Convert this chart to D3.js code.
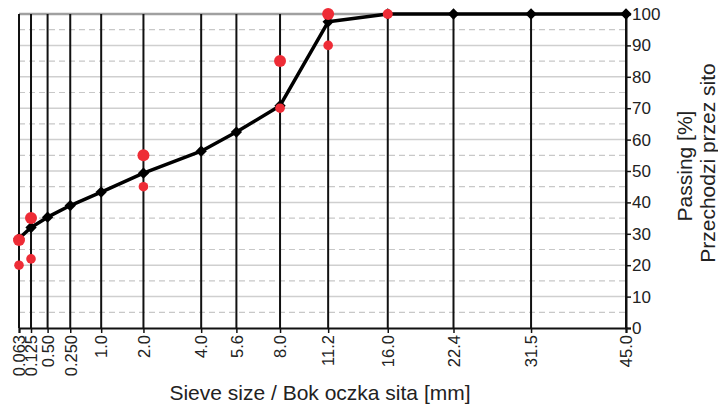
<!DOCTYPE html>
<html>
<head>
<meta charset="utf-8">
<script src="https://cdn.jsdelivr.net/npm/d3@7"></script>
<style>
  html, body { margin: 0; padding: 0; background: #fff; }
  svg { display: block; font-family: "Liberation Sans", Arial, sans-serif; }
</style>
</head>
<body>
<svg id="chart" width="718" height="406"></svg>
<script>
// Sieve sizes (mm) and the labels printed under each sieve line
const sieves = [0.063, 0.125, 0.25, 0.5, 1, 2, 4, 5.6, 8, 11.2, 16, 22.4, 31.5, 45];
const sieveLabels = ["0.063", "0.125", "0.50", "0.250", "1.0", "2.0", "4.0", "5.6", "8.0", "11.2", "16.0", "22.4", "31.5", "45.0"];

// Grading curve of the mix, % passing
const passing = [28.5, 32, 35.3, 39, 43.3, 49.3, 56.3, 62.4, 70.8, 97.5, 100, 100, 100, 100];

// Envelope limits
const upperSieves = [0.063, 0.125, 2, 8, 11.2, 16];
const upperLimit  = [28, 35, 55, 85, 100, 100];
const lowerSieves = [0.063, 0.125, 2, 8, 11.2];
const lowerLimit  = [20, 22, 45, 70, 90];

const yTicks = [0, 10, 20, 30, 40, 50, 60, 70, 80, 90, 100];

const svg = d3.select("#chart");
const L = 19, R = 626, T = 14, B = 328;

const x = d3.scalePow().exponent(0.45).domain([0.063, 45]).range([L, R]);
const y = d3.scaleLinear().domain([0, 100]).range([B, T]);

// Horizontal grid: dashed at the half steps, solid at each ten
const g = svg.append("g");
g.selectAll("line.half").data(yTicks.slice(0, -1).map(v => v + 5)).join("line")
  .attr("x1", L).attr("x2", R).attr("y1", d => y(d)).attr("y2", d => y(d))
  .attr("stroke", "#c8c8c8").attr("stroke-width", 1.2).attr("stroke-dasharray", "6,4");
g.selectAll("line.ten").data(yTicks.slice(1)).join("line")
  .attr("x1", L).attr("x2", R).attr("y1", d => y(d)).attr("y2", d => y(d))
  .attr("stroke", d => d === 100 ? "#a0a0a0" : "#cfcfcf").attr("stroke-width", d => d === 100 ? 2.5 : 1.5);

// Left frame edge
g.append("line").attr("x1", L).attr("x2", L).attr("y1", T).attr("y2", B)
  .attr("stroke", "#909090").attr("stroke-width", 2);

// Vertical sieve lines
g.selectAll("line.sieve").data(sieves).join("line")
  .attr("x1", d => x(d)).attr("x2", d => x(d)).attr("y1", T).attr("y2", B)
  .attr("stroke", "#111").attr("stroke-width", 2);

// Bottom axis
const xAxis = d3.axisBottom(x).tickValues(sieves).tickSize(5)
  .tickFormat((d, i) => sieveLabels[i]);
const xa = svg.append("g").attr("transform", `translate(0,${B})`).call(xAxis);
xa.select(".domain").attr("stroke", "#111").attr("stroke-width", 2);
xa.selectAll(".tick line").attr("stroke", "#111").attr("stroke-width", 1.5);
xa.selectAll(".tick text")
  .attr("font-size", 16.5).attr("fill", "#222")
  .attr("font-family", "Liberation Sans, Arial, sans-serif")
  .attr("text-anchor", "end")
  .attr("transform", "rotate(-90)")
  .attr("x", -7).attr("y", 0).attr("dy", "0.35em");

// Right axis
const yAxis = d3.axisRight(y).tickValues(yTicks).tickSize(5);
const ya = svg.append("g").attr("transform", `translate(${R},0)`).call(yAxis);
ya.select(".domain").attr("stroke", "#111").attr("stroke-width", 2);
ya.selectAll(".tick line").attr("stroke", "#111").attr("stroke-width", 1.5);
ya.selectAll(".tick text")
  .attr("font-size", 17).attr("fill", "#222")
  .attr("font-family", "Liberation Sans, Arial, sans-serif")
  .attr("x", 6);

// Grading curve
const line = d3.line().x((d, i) => x(sieves[i])).y(d => y(d));
svg.append("path").datum(passing).attr("d", line)
  .attr("fill", "none").attr("stroke", "#000").attr("stroke-width", 3.5)
  .attr("stroke-linejoin", "round");

// Diamond markers on the curve
svg.selectAll("rect.pt").data(passing).join("rect")
  .attr("x", -4).attr("y", -4).attr("width", 8).attr("height", 8)
  .attr("fill", "#000")
  .attr("transform", (d, i) => `translate(${x(sieves[i])},${y(d)}) rotate(45)`);

// Envelope points
svg.selectAll("circle.lo").data(lowerLimit).join("circle")
  .attr("cx", (d, i) => x(lowerSieves[i])).attr("cy", d => y(d))
  .attr("r", 4.8).attr("fill", "#ee2c36");
svg.selectAll("circle.up").data(upperLimit).join("circle")
  .attr("cx", (d, i) => x(upperSieves[i])).attr("cy", d => y(d))
  .attr("r", (d, i) => upperSieves[i] === 16 ? 5 : 6).attr("fill", "#ee2c36");

// Axis titles
svg.append("text").attr("x", 320).attr("y", 400).attr("text-anchor", "middle")
  .attr("font-size", 21).attr("fill", "#222")
  .text("Sieve size / Bok oczka sita [mm]");
svg.append("text").attr("transform", "translate(692,166) rotate(-90)")
  .attr("text-anchor", "middle").attr("font-size", 21).attr("fill", "#222")
  .text("Passing [%]");
svg.append("text").attr("transform", "translate(715,163) rotate(-90)")
  .attr("text-anchor", "middle").attr("font-size", 21).attr("fill", "#222")
  .text("Przechodzi przez sito");
</script>
</body>
</html>
